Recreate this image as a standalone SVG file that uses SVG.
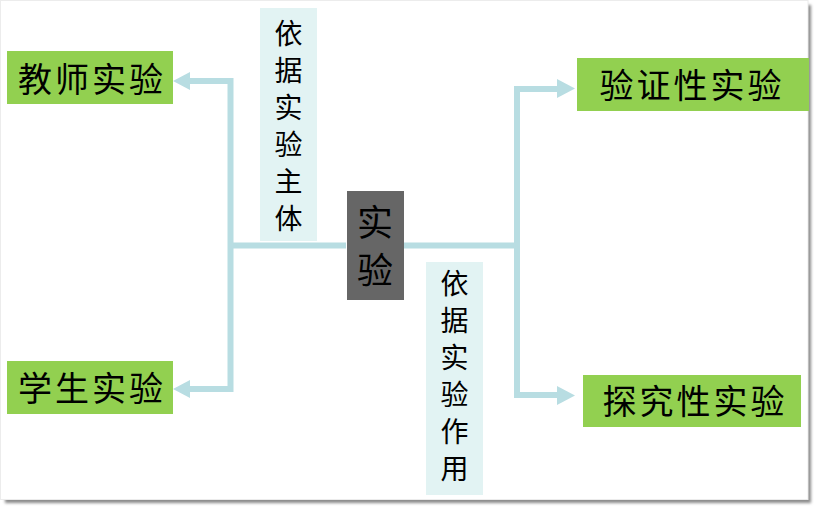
<svg xmlns="http://www.w3.org/2000/svg" width="818" height="508" viewBox="0 0 818 508">
<defs>
<filter id="sh" x="-5%" y="-5%" width="110%" height="110%"><feGaussianBlur stdDeviation="1.6"/></filter>
<style>
.g{fill:#92d050}
.lt{fill:#e2f3f3}
.t{font-family:"Noto Sans CJK SC","Noto Sans CJK JP",sans-serif;fill:#000}
.big{font-size:34px;letter-spacing:3px;text-anchor:middle}
.v{font-size:28px;text-anchor:middle}
.c{font-size:36px;text-anchor:middle}
.ln{stroke:#b8dde2;stroke-width:6;fill:none}
.ah{fill:#b8dde2}
</style>
</defs>
<rect x="5" y="5" width="806" height="498" fill="#8a8a8a" filter="url(#sh)"/>
<rect x="0.5" y="0.5" width="807.5" height="499" fill="#fff" stroke="#ececec" stroke-width="1"/>
<g id="connectors">
<path class="ln" d="M346 245.5 H230.5 M230.5 78 V392 M230.5 81 H189 M230.5 389 H189"/>
<polygon class="ah" points="190,72 173,81 190,90"/>
<polygon class="ah" points="190,380 173,389 190,398"/>
<path class="ln" d="M402 245.5 H517 M517 86 V398 M517 89 H558 M517 395 H558"/>
<polygon class="ah" points="557,79 575,88.5 557,98"/>
<polygon class="ah" points="557,386 575,395.5 557,405"/>
</g>
<g id="label-subject">
<rect class="lt" x="260" y="8" width="57" height="233"/>
<text class="t v" x="288.5" y="44">依</text>
<text class="t v" x="288.5" y="81">据</text>
<text class="t v" x="288.5" y="118">实</text>
<text class="t v" x="288.5" y="155">验</text>
<text class="t v" x="288.5" y="192">主</text>
<text class="t v" x="288.5" y="229">体</text>
</g>
<g id="label-function">
<rect class="lt" x="426" y="262" width="57" height="233"/>
<text class="t v" x="454.5" y="294">依</text>
<text class="t v" x="454.5" y="331">据</text>
<text class="t v" x="454.5" y="368">实</text>
<text class="t v" x="454.5" y="405">验</text>
<text class="t v" x="454.5" y="442">作</text>
<text class="t v" x="454.5" y="479">用</text>
</g>
<g id="center">
<rect x="347" y="191" width="57" height="109" fill="#666666"/>
<text class="t c" x="375" y="236">实</text>
<text class="t c" x="375" y="284">验</text>
</g>
<g id="teacher">
<rect class="g" x="7" y="51" width="166" height="53"/>
<text class="t big" x="92" y="92">教师实验</text>
</g>
<g id="student">
<rect class="g" x="7" y="361" width="166" height="53"/>
<text class="t big" x="92" y="401">学生实验</text>
</g>
<g id="verify">
<rect class="g" x="577" y="58" width="232" height="53"/>
<text class="t big" x="692" y="98">验证性实验</text>
</g>
<g id="explore">
<rect class="g" x="583" y="375" width="218" height="52"/>
<text class="t big" x="695" y="414">探究性实验</text>
</g>
</svg>
